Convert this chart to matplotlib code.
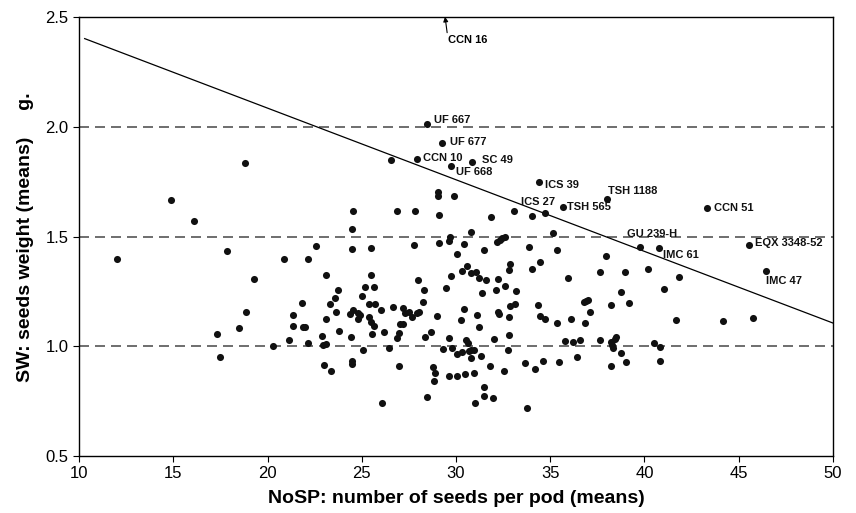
import matplotlib
matplotlib.use("Agg")
import matplotlib.pyplot as plt
import numpy as np

plt.rcParams['font.family'] = ['Liberation Sans Narrow', 'Liberation Sans', 'DejaVu Sans']

# unlabelled accessions: seeds per pod (x) and seed weight (y)
nosp = [12.00, 14.90, 16.08, 18.79, 17.84, 19.28, 20.89, 22.13, 22.58, 23.10,
        21.83, 21.35, 21.35, 21.86, 22.00, 23.09, 18.88, 18.50, 17.34, 17.48,
        20.27, 21.13, 22.16, 22.91, 22.92, 23.09, 23.01, 23.37, 23.32, 23.56,
        23.74, 23.65, 23.78, 24.55, 24.50, 24.48, 25.49, 25.49, 25.19, 25.67,
        25.01, 25.37, 25.72, 26.01, 24.52, 24.39, 24.80, 24.89, 24.82, 25.38,
        25.51, 25.63, 25.56, 24.45, 26.16, 26.64, 27.17, 27.29, 27.03, 27.19,
        26.99, 26.87, 25.05, 26.43, 24.48, 24.47, 26.99, 26.06, 26.87, 27.81,
        27.76, 28.00, 28.29, 28.27, 28.04, 27.91, 27.65, 27.51, 29.03, 29.03,
        29.88, 29.08, 29.08, 29.63, 29.68, 30.80, 30.42, 30.07, 31.49, 31.86,
        33.06, 34.05, 32.16, 32.32, 32.46, 32.60, 35.15, 33.87, 35.34, 34.44,
        34.03, 35.96, 32.86, 32.83, 30.60, 30.32, 30.78, 31.06, 29.75, 31.24,
        31.59, 32.23, 29.47, 31.40, 32.12, 32.60, 33.20, 28.36, 28.66, 29.01,
        30.41, 30.27, 31.11, 31.24, 29.61, 30.55, 30.64, 29.29, 29.77, 30.07,
        30.32, 30.67, 30.80, 30.95, 30.78, 31.33, 32.23, 32.27, 32.81, 32.86,
        33.11, 32.02, 32.81, 32.76, 28.80, 28.87, 28.82, 29.61, 30.04, 30.46,
        30.95, 31.80, 32.55, 31.49, 31.50, 31.96, 31.01, 28.48, 33.78, 34.35,
        34.47, 34.71, 35.37, 36.12, 35.77, 36.22, 36.58, 36.40, 33.68, 34.17,
        34.62, 35.45, 41.02, 38.74, 39.16, 38.21, 36.77, 36.90, 37.00, 37.12,
        36.86, 41.67, 44.16, 45.76, 37.64, 38.21, 38.29, 38.35, 38.45, 38.49,
        38.77, 39.02, 38.21, 40.52, 40.81, 40.84, 37.96, 37.64, 38.95, 40.20,
        41.81, 26.57]
sw = [1.398, 1.666, 1.573, 1.837, 1.436, 1.306, 1.398, 1.400, 1.458, 1.327,
      1.199, 1.143, 1.093, 1.087, 1.087, 1.123, 1.158, 1.082, 1.058, 0.950,
      1.003, 1.028, 1.015, 1.047, 1.007, 1.013, 0.917, 0.888, 1.193, 1.219,
      1.258, 1.157, 1.069, 1.617, 1.535, 1.443, 1.447, 1.327, 1.271, 1.269,
      1.231, 1.193, 1.193, 1.167, 1.165, 1.148, 1.154, 1.145, 1.125, 1.134,
      1.113, 1.094, 1.058, 1.044, 1.067, 1.181, 1.176, 1.151, 1.102, 1.102,
      1.060, 1.040, 0.982, 0.994, 0.935, 0.921, 0.909, 0.741, 1.617, 1.617,
      1.461, 1.301, 1.257, 1.201, 1.155, 1.151, 1.135, 1.158, 1.705, 1.687,
      1.685, 1.600, 1.473, 1.482, 1.500, 1.521, 1.465, 1.421, 1.439, 1.591,
      1.619, 1.596, 1.474, 1.485, 1.494, 1.500, 1.516, 1.454, 1.439, 1.385,
      1.353, 1.312, 1.374, 1.350, 1.368, 1.342, 1.336, 1.339, 1.320, 1.312,
      1.303, 1.307, 1.268, 1.242, 1.258, 1.277, 1.254, 1.041, 1.066, 1.137,
      1.170, 1.120, 1.143, 1.087, 1.040, 1.029, 1.014, 0.988, 0.991, 0.965,
      0.973, 0.980, 0.984, 0.984, 0.947, 0.958, 1.157, 1.146, 1.134, 1.183,
      1.195, 1.035, 1.051, 0.982, 0.906, 0.880, 0.844, 0.866, 0.866, 0.876,
      0.880, 0.911, 0.888, 0.814, 0.775, 0.765, 0.741, 0.771, 0.719, 1.189,
      1.139, 1.126, 1.105, 1.126, 1.026, 1.020, 1.029, 0.953, 0.926, 0.897,
      0.935, 0.928, 1.263, 1.248, 1.196, 1.187, 1.201, 1.208, 1.211, 1.155,
      1.105, 1.119, 1.117, 1.131, 1.029, 1.020, 1.008, 0.994, 1.032, 1.044,
      0.969, 0.929, 0.909, 1.016, 0.997, 0.935, 1.412, 1.338, 1.338, 1.351,
      1.318, 1.850]

# labelled accessions
names = ['UF 667', 'UF 677', 'CCN 10', 'UF 668', 'SC 49', 'ICS 39', 'TSH 1188',
         'CCN 51', 'GU 239-H', 'IMC 61', 'EQX 3348-52', 'IMC 47', 'ICS 27', 'TSH 565']
names_x = [28.46, 29.27, 27.95, 29.75, 30.85, 34.39, 37.99,
           43.33, 39.76, 40.75, 45.53, 46.43, 34.74, 35.66]
names_y = [2.015, 1.926, 1.853, 1.821, 1.842, 1.751, 1.672,
           1.629, 1.452, 1.447, 1.462, 1.344, 1.607, 1.637]

# CCN 16 lies above the plotted range
ccn16_x = 29.42

# fitted line SW = a + b * NoSP
fit_a = 2.740
fit_b = -0.03267

ref_levels = [1.0, 1.5, 2.0]
x_ticks = [10, 15, 20, 25, 30, 35, 40, 45, 50]
y_ticks = [0.5, 1.0, 1.5, 2.0, 2.5]

# label offsets in pixels (dx, dy)
offsets = {
    'UF 667': (7, 4), 'UF 677': (8, 1), 'CCN 10': (6, 1), 'UF 668': (5, -6),
    'SC 49': (10, 2), 'ICS 39': (6, -3), 'TSH 1188': (1, 8), 'CCN 51': (7, 0),
    'GU 239-H': (-13, 13), 'IMC 61': (4, -7), 'EQX 3348-52': (6, 2),
    'IMC 47': (0, -10), 'ICS 27': (-24, 11), 'TSH 565': (4, 0),
}

fig = plt.figure(figsize=(8.56, 5.13), dpi=100)
ax = fig.add_axes([0.0923, 0.111, 0.8808, 0.855])

for lv in ref_levels:
    ax.axhline(lv, color='#555555', lw=1.2, ls=(0, (6, 3.6)), zorder=1)

xx = np.array([10.3, 50])
ax.plot(xx, fit_a + fit_b * xx, color='black', lw=0.9, zorder=2)

ax.scatter(nosp, sw, s=26, color='#111111', zorder=3, linewidths=0)
ax.scatter(names_x, names_y, s=26, color='#111111', zorder=3, linewidths=0)

for n, x, y in zip(names, names_x, names_y):
    dx, dy = offsets[n]
    ax.annotate(n, (x, y), xytext=(dx, dy), textcoords='offset pixels',
                ha='left', va='center', fontsize=8, fontweight='bold',
                family=['Liberation Sans', 'DejaVu Sans'], color='#111111')

ax.annotate('CCN 16', xy=(ccn16_x, 2.503), xytext=(29.55, 2.395),
            ha='left', va='center', fontsize=8, fontweight='bold',
            family=['Liberation Sans', 'DejaVu Sans'],
            arrowprops=dict(arrowstyle='-|>', color='black', lw=0.8,
                            mutation_scale=7, shrinkA=0, shrinkB=0,
                            relpos=(0.0, 1.0)),
            annotation_clip=False)

ax.set_xlim(10, 50)
ax.set_ylim(0.5, 2.5)
ax.set_xticks(x_ticks)
ax.set_yticks(y_ticks)
ax.set_yticklabels([f'{v:.1f}' for v in y_ticks])
ax.tick_params(direction='out', length=4, width=0.8, labelsize=12)
for sp in ax.spines.values():
    sp.set_linewidth(1.0)

ax.set_xlabel('NoSP: number of seeds per pod (means)', fontsize=14,
              fontweight='bold', labelpad=6)
ax.set_ylabel('SW: seeds weight (means)     g.', fontsize=14,
              fontweight='bold', labelpad=8)

fig.savefig('out.png', dpi=100)
